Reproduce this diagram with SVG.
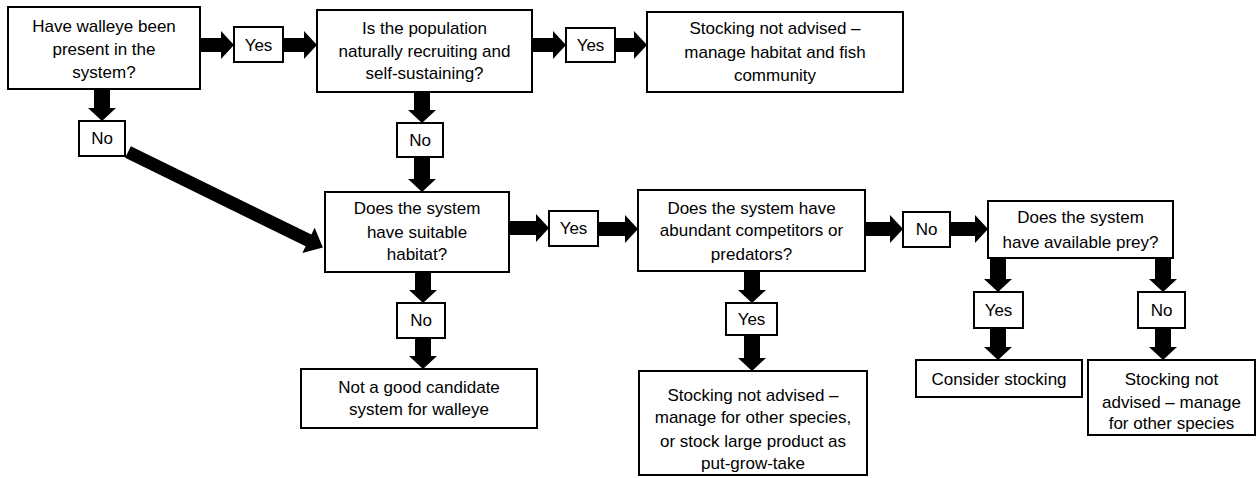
<svg xmlns="http://www.w3.org/2000/svg" width="1258" height="478" viewBox="0 0 1258 478">
<style>
.box{fill:#fff;stroke:#000;stroke-width:2}
.t{font-family:"Liberation Sans",Arial,sans-serif;font-size:17px;fill:#000;text-anchor:middle}
.arr{fill:#000;stroke:none}
</style>
<rect width="1258" height="478" fill="#fff"/>
<g id="connectors">
<polygon class="arr" points="200,38 221,38 221,31 234,45 221,59 221,52 200,52"/>
<polygon class="arr" points="283,38 304,38 304,31 317,45 304,59 304,52 283,52"/>
<polygon class="arr" points="532,38 553,38 553,31 566,45 553,59 553,52 532,52"/>
<polygon class="arr" points="615,38 634,38 634,31 647,45 634,59 634,52 615,52"/>
<polygon class="arr" points="94,89 110,89 110,108 116,108 102,121 88,108 94,108"/>
<polygon class="arr" points="414,92 430,92 430,110 436,110 422,123 408,110 414,110"/>
<polygon class="arr" points="414,157 430,157 430,179 436,179 422,192 408,179 414,179"/>
<g transform="translate(128,152) rotate(26.1)"><polygon class="arr" points="0,-6.5 201,-6.5 201,-14 217,0 201,14 201,6.5 0,6.5"/></g>
<polygon class="arr" points="509,221 536,221 536,214 549,228 536,242 536,235 509,235"/>
<polygon class="arr" points="598,222 625,222 625,215 638,229 625,243 625,236 598,236"/>
<polygon class="arr" points="865,222 890,222 890,215 903,229 890,243 890,236 865,236"/>
<polygon class="arr" points="950,222 975,222 975,215 988,229 975,243 975,236 950,236"/>
<polygon class="arr" points="415,272 431,272 431,290 437,290 423,303 409,290 415,290"/>
<polygon class="arr" points="415,338 431,338 431,356 437,356 423,369 409,356 415,356"/>
<polygon class="arr" points="744,271 760,271 760,290 766,290 752,303 738,290 744,290"/>
<polygon class="arr" points="744,335 760,335 760,358 766,358 752,371 738,358 744,358"/>
<polygon class="arr" points="990,258 1006,258 1006,279 1012,279 998,292 984,279 990,279"/>
<polygon class="arr" points="1155,258 1171,258 1171,279 1177,279 1163,292 1149,279 1155,279"/>
<polygon class="arr" points="990,328 1006,328 1006,347 1012,347 998,360 984,347 990,347"/>
<polygon class="arr" points="1155,328 1171,328 1171,347 1177,347 1163,360 1149,347 1155,347"/>
</g>
<g id="n1"><rect class="box" x="8" y="7" width="192" height="82"/><text class="t" x="104" y="32">Have walleye been</text><text class="t" x="104" y="55">present in the</text><text class="t" x="104" y="78">system?</text></g>
<g id="l1"><rect class="box" x="234" y="27" width="49" height="35"/><text class="t" x="258.5" y="51">Yes</text></g>
<g id="n2"><rect class="box" x="317" y="10" width="215" height="82"/><text class="t" x="424.5" y="34">Is the population</text><text class="t" x="424.5" y="57">naturally recruiting and</text><text class="t" x="424.5" y="79">self-sustaining?</text></g>
<g id="l2"><rect class="box" x="566" y="28" width="49" height="34"/><text class="t" x="590.5" y="51">Yes</text></g>
<g id="n3"><rect class="box" x="647" y="12" width="256" height="80"/><text class="t" x="775" y="34">Stocking not advised –</text><text class="t" x="775" y="58">manage habitat and fish</text><text class="t" x="775" y="81">community</text></g>
<g id="l3"><rect class="box" x="79" y="121" width="46" height="35"/><text class="t" x="102" y="144">No</text></g>
<g id="l4"><rect class="box" x="397" y="123" width="46" height="34"/><text class="t" x="420" y="146">No</text></g>
<g id="n4"><rect class="box" x="325" y="192" width="184" height="80"/><text class="t" x="417" y="214">Does the system</text><text class="t" x="417" y="238">have suitable</text><text class="t" x="417" y="260">habitat?</text></g>
<g id="l5"><rect class="box" x="549" y="211" width="49" height="35"/><text class="t" x="573.5" y="234">Yes</text></g>
<g id="n5"><rect class="box" x="638" y="190" width="227" height="81"/><text class="t" x="751.5" y="214">Does the system have</text><text class="t" x="751.5" y="236">abundant competitors or</text><text class="t" x="751.5" y="260">predators?</text></g>
<g id="l6"><rect class="box" x="903" y="212" width="47" height="35"/><text class="t" x="926.5" y="235">No</text></g>
<g id="n6"><rect class="box" x="988" y="201" width="185" height="57"/><text class="t" x="1080.5" y="223">Does the system</text><text class="t" x="1080.5" y="248">have available prey?</text></g>
<g id="l7"><rect class="box" x="397" y="303" width="48" height="35"/><text class="t" x="421" y="326">No</text></g>
<g id="n8"><rect class="box" x="301" y="369" width="236" height="59"/><text class="t" x="419" y="393">Not a good candidate</text><text class="t" x="419" y="415">system for walleye</text></g>
<g id="l8"><rect class="box" x="726" y="303" width="51" height="32"/><text class="t" x="751.5" y="325">Yes</text></g>
<g id="n7"><rect class="box" x="639" y="371" width="228" height="104"/><text class="t" x="753" y="401">Stocking not advised –</text><text class="t" x="753" y="423">manage for other species,</text><text class="t" x="753" y="447">or stock large product as</text><text class="t" x="753" y="469">put-grow-take</text></g>
<g id="l9"><rect class="box" x="974" y="292" width="49" height="36"/><text class="t" x="998.5" y="316">Yes</text></g>
<g id="l10"><rect class="box" x="1138" y="292" width="47" height="36"/><text class="t" x="1161.5" y="316">No</text></g>
<g id="n9"><rect class="box" x="916" y="360" width="166" height="37"/><text class="t" x="999" y="385">Consider stocking</text></g>
<g id="n10"><rect class="box" x="1088" y="360" width="167" height="75"/><text class="t" x="1171.5" y="385">Stocking not</text><text class="t" x="1171.5" y="408">advised – manage</text><text class="t" x="1171.5" y="429">for other species</text></g>
</svg>
